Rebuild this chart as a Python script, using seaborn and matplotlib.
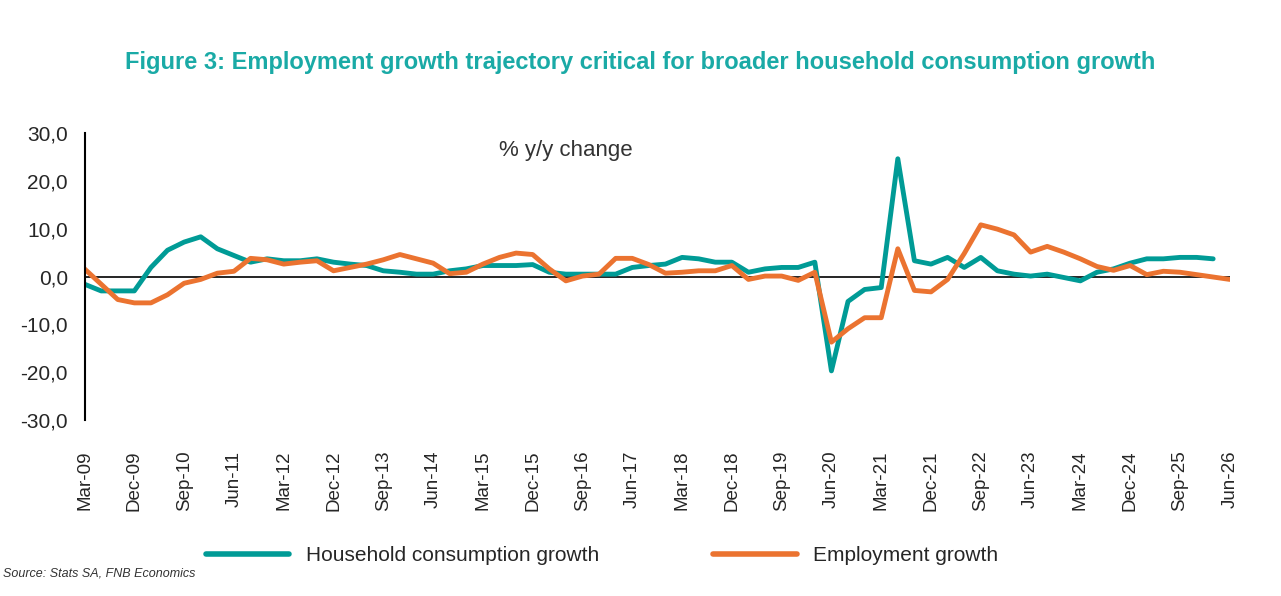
import numpy as np
import pandas as pd
import matplotlib
matplotlib.use("Agg")
import matplotlib.pyplot as plt
import seaborn as sns

months = ["Mar", "Jun", "Sep", "Dec"]
quarters = [f"{months[i % 4]}-{(9 + i // 4):02d}" for i in range(70)]

household = [-1.6, -3.0, -3.0, -3.0, 1.9, 5.5, 7.2, 8.3, 5.8, 4.4,
             3.0, 3.7, 3.3, 3.3, 3.7, 3.0, 2.6, 2.3, 1.2, 0.9,
             0.5, 0.5, 1.2, 1.6, 2.3, 2.3, 2.3, 2.5, 0.9, 0.5,
             0.5, 0.5, 0.5, 1.9, 2.3, 2.6, 4.0, 3.7, 3.0, 3.0,
             0.9, 1.6, 1.9, 1.9, 3.0, -19.7, -5.2, -2.7, -2.3, 24.6,
             3.3, 2.6, 4.0, 1.9, 4.0, 1.2, 0.5, 0.1, 0.5, -0.2,
             -0.9, 0.9, 1.6, 2.8, 3.7, 3.7, 4.0, 4.0, 3.7, np.nan]
employment = [1.6, -1.6, -4.8, -5.5, -5.5, -3.8, -1.4, -0.6, 0.7, 1.1,
              3.8, 3.5, 2.6, 3.0, 3.3, 1.2, 1.9, 2.6, 3.5, 4.6,
              3.7, 2.8, 0.6, 0.9, 2.6, 4.0, 4.9, 4.6, 1.6, -0.9,
              0.1, 0.5, 3.8, 3.8, 2.5, 0.7, 0.9, 1.2, 1.2, 2.3,
              -0.6, 0.1, 0.1, -0.8, 0.9, -13.7, -10.9, -8.6, -8.6, 5.8,
              -2.9, -3.2, -0.6, 4.8, 10.8, 9.9, 8.7, 5.1, 6.3, 5.1,
              3.7, 2.1, 1.3, 2.3, 0.4, 1.1, 0.9, 0.4, -0.1, -0.6]

df = pd.DataFrame({"x": np.arange(70), "q": quarters,
                   "Household consumption growth": household,
                   "Employment growth": employment})
long = df.melt(id_vars=["x", "q"], var_name="series", value_name="val")

sns.set_style("white")
plt.rcParams['font.family'] = ['Liberation Sans', 'DejaVu Sans']
fig = plt.figure(figsize=(12.81, 5.96), dpi=100)
ax = fig.add_axes([0.066, 0.295, 0.894, 0.482])
sns.lineplot(data=long, x="x", y="val", hue="series",
             palette={"Household consumption growth": "#009B96", "Employment growth": "#EB7330"},
             linewidth=3.5, ax=ax, legend=False)
ax.axhline(0, color="black", lw=1.2, zorder=1)
ax.set_xlim(0, 69)
ax.set_ylim(-30, 30)
ax.set_yticks(range(-30, 31, 10))
ax.set_yticklabels([f"{v},0" for v in range(-30, 31, 10)], fontsize=15)
ticks = list(range(0, 70, 3))
ax.set_xticks(ticks)
ax.set_xticklabels([quarters[i] for i in ticks], rotation=90, fontsize=13.5)
ax.tick_params(axis='x', pad=22, length=0)
ax.tick_params(axis='y', length=0, pad=12)
for s in ["top", "right", "bottom"]:
    ax.spines[s].set_visible(False)
ax.spines["left"].set_color("black")
ax.spines["left"].set_linewidth(1.5)
ax.set_xlabel("")
ax.set_ylabel("")
ax.text(0.42, 0.92, "% y/y change", transform=ax.transAxes, ha="center", fontsize=16, color="#333333")

fig.text(0.5, 0.885, "Figure 3: Employment growth trajectory critical for broader household consumption growth",
         ha="center", fontsize=17, fontweight="bold", color="#1AAAA6")
from matplotlib.lines import Line2D
handles = [Line2D([], [], color="#009B96", lw=4), Line2D([], [], color="#EB7330", lw=4)]
fig.legend(handles, ["Household consumption growth", "Employment growth"], loc="center",
           bbox_to_anchor=(0.47, 0.068), ncol=2, frameon=False, fontsize=15, columnspacing=5.5, handlelength=4)
fig.text(0.002, 0.032, "Source: Stats SA, FNB Economics", fontsize=9, style="italic", color="#333333")
fig.savefig("out.png", dpi=100)
